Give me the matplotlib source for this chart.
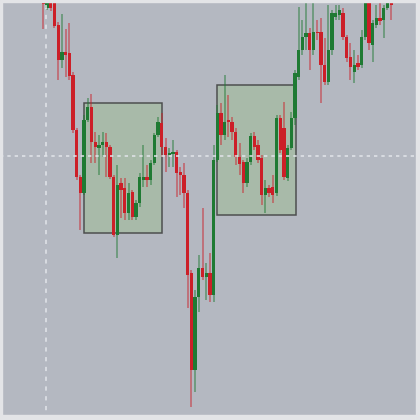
import matplotlib
matplotlib.use("Agg")
import matplotlib.pyplot as plt
from matplotlib.patches import Rectangle
import numpy as np

# ---- data (prices) ----
opens = [418, 412, 418, 430, 395, 360, 368, 367, 345, 290, 243, 227, 300, 313, 278, 272, 275, 278, 273, 243,
         185, 237, 232, 207, 228, 203, 217, 240, 243, 240, 257, 285, 297, 273, 265, 266, 268, 248, 245, 227,
         147, 50, 123, 152, 143, 147, 125, 260, 307, 285, 300, 298, 288, 263, 258, 237, 258, 284, 275, 262,
         225, 232, 233, 227, 302, 292, 242, 272, 302, 343, 370, 383, 387, 370, 388, 388, 355, 338, 370, 403,
         405, 407, 383, 363, 348, 357, 355, 383, 417, 375, 395, 402, 400, 412, 425]
closes = [416, 417, 412, 394, 360, 368, 365, 344, 290, 243, 227, 300, 313, 278, 273, 275, 278, 273, 243, 185,
          235, 230, 207, 227, 203, 217, 243, 243, 240, 257, 285, 298, 273, 265, 267, 268, 247, 245, 227, 145,
          50, 123, 152, 143, 147, 125, 260, 307, 285, 298, 298, 288, 263, 256, 237, 258, 284, 273, 260, 225,
          232, 227, 225, 302, 270, 243, 272, 302, 347, 370, 383, 387, 370, 388, 387, 355, 338, 370, 407, 407,
          410, 383, 362, 353, 355, 353, 383, 417, 377, 397, 402, 399, 412, 418, 415]
highs = [425, 419, 424, 435, 398, 406, 391, 397, 348, 292, 245, 305, 322, 326, 288, 285, 288, 287, 275, 245,
         255, 242, 242, 237, 230, 220, 247, 275, 255, 260, 287, 303, 307, 282, 272, 280, 270, 253, 257, 230,
         150, 130, 165, 212, 157, 167, 275, 315, 317, 345, 325, 303, 292, 277, 260, 262, 287, 288, 280, 265,
         240, 235, 245, 305, 305, 318, 275, 308, 350, 413, 400, 420, 392, 418, 400, 402, 382, 415, 410, 415,
         415, 412, 385, 377, 370, 365, 390, 425, 425, 400, 415, 425, 415, 425, 430]
lows = [391, 410, 409, 392, 340, 352, 343, 340, 287, 240, 190, 225, 298, 257, 257, 245, 263, 243, 241, 183,
        162, 202, 200, 200, 200, 200, 213, 233, 233, 235, 255, 283, 263, 248, 253, 253, 223, 225, 212, 112,
        13, 28, 108, 140, 120, 118, 118, 258, 275, 280, 283, 280, 255, 245, 227, 233, 255, 270, 257, 215,
        207, 223, 217, 224, 267, 240, 239, 270, 295, 340, 365, 370, 350, 365, 380, 317, 335, 335, 365, 400,
        400, 380, 358, 340, 337, 350, 352, 380, 370, 358, 392, 395, 382, 410, 400]

# highlighted zones (candle-index span, price span)
zone_start = [11.05, 47.0]
zone_end = [32.14, 68.27]
zone_top = [317.3, 335.0]
zone_bottom = [187.3, 205.5]

# crosshair position
cross_index = 0.78
cross_price = 264.3

# ---- style ----
BG = "#b4b8c1"
UP = "#1f7a33"
DOWN = "#cc1f28"
ZONE_FILL = "#a8baa9"
ZONE_EDGE = "#4d4f4f"
BORDER = "#e3e4e7"

fig = plt.figure(figsize=(4.2, 4.2), dpi=100)
fig.patch.set_facecolor(BG)
ax = fig.add_axes([0, 0, 1, 1])
ax.set_facecolor(BG)

n = len(opens)
x = np.arange(n)
o = np.array(opens, float)
c = np.array(closes, float)
h = np.array(highs, float)
l = np.array(lows, float)
up = c >= o
cols = np.where(up, UP, DOWN)

for xs, xe, zt, zb in zip(zone_start, zone_end, zone_top, zone_bottom):
    ax.add_patch(Rectangle((xs, zb), xe - xs, zt - zb, facecolor=ZONE_FILL,
                           edgecolor=ZONE_EDGE, linewidth=1.1, zorder=1))

ax.vlines(x, l, h, colors=cols, linewidth=1.3, alpha=0.5, zorder=2)
ax.bar(x, c - o, bottom=o, width=0.88, color=cols, edgecolor="none", zorder=3)

ax.axvline(cross_index, color="#e2e5ea", linewidth=1.1, dashes=(2.8, 3.6), zorder=4)
ax.axhline(cross_price, color="#e2e5ea", linewidth=1.1, dashes=(2.2, 2.6), zorder=4)

px = 3.7
x0px = 43.4
ax.set_xlim(-x0px / px, (420 - x0px) / px)
ax.set_ylim(0, 420)
ax.set_axis_off()

# light frame around the chart area
fig.patches.append(Rectangle((0, 0), 2 / 420, 1, transform=fig.transFigure, color=BORDER, zorder=10))
fig.patches.append(Rectangle((0, 0), 1, 5 / 420, transform=fig.transFigure, color=BORDER, zorder=10))
fig.patches.append(Rectangle((0, 1 - 2 / 420), 1, 2 / 420, transform=fig.transFigure, color=BORDER, zorder=10))
fig.patches.append(Rectangle((1 - 4 / 420, 0), 4 / 420, 1, transform=fig.transFigure, color=BORDER, zorder=10))

fig.savefig("out.png", dpi=100, facecolor=fig.get_facecolor())
